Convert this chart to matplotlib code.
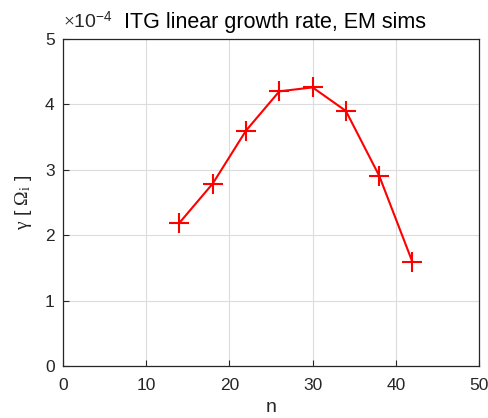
import matplotlib
matplotlib.use("Agg")
import matplotlib.pyplot as plt

n = [14, 18, 22, 26, 30, 34, 38, 42]
gamma = [2.19, 2.79, 3.60, 4.20, 4.26, 3.90, 2.91, 1.59]  # x 1e-4
xticks = [0, 10, 20, 30, 40, 50]
yticks = [0, 1, 2, 3, 4, 5]

plt.rcParams['font.family'] = ['Liberation Sans', 'DejaVu Sans']
plt.rcParams['mathtext.fontset'] = 'custom'
plt.rcParams['mathtext.rm'] = 'Liberation Serif'
plt.rcParams['mathtext.it'] = 'Liberation Serif:italic'

fig = plt.figure(figsize=(4.89, 4.18), dpi=100)
ax = fig.add_axes([63/489, 52/418, 416/489, 327/418])
ax.plot(n, gamma, color='red', lw=1.5, marker='+', markersize=15, markeredgewidth=1.5)
ax.set_xlim(0, 50)
ax.set_ylim(0, 5)
ax.set_xticks(xticks)
ax.set_yticks(yticks)
ax.grid(True, color='#dcdcdc', lw=0.8)
ax.set_axisbelow(True)
ax.tick_params(direction='in', length=4, width=0.8, labelsize=12.5, colors='#262626')
ax.tick_params(axis='x', pad=9)
ax.tick_params(axis='y', pad=6)
for s in ax.spines.values():
    s.set_color('#262626')
    s.set_linewidth(0.9)
ax.set_xlabel('n', fontsize=14, color='#262626', labelpad=4)
ax.set_ylabel(r'$\mathrm{\gamma}$ [ $\mathrm{\Omega_i}$ ]', fontsize=14, color='#262626', labelpad=8)
ax.set_title('ITG linear growth rate, EM sims', fontsize=15.5, color='#000000', pad=8, x=0.51)
ax.text(0.0, 1.02, r'$\times$10$^{\mathregular{-4}}$', transform=ax.transAxes, fontsize=14, color='#262626', ha='left', va='bottom')
fig.savefig('out.png', dpi=100)
